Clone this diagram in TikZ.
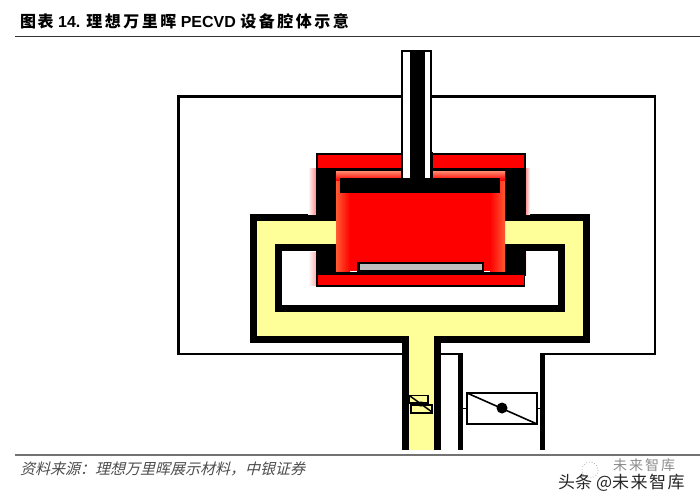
\documentclass[tikz,border=0pt]{standalone}
\usepackage{fontspec}
\usetikzlibrary{calc}
\setmainfont{Liberation Sans}
\newfontfamily\cjk{Noto Sans CJK SC}
\newfontfamily\cjkslant[FakeSlant=0.25]{Noto Sans CJK SC}
\definecolor{lid}{RGB}{255, 0, 0}
\definecolor{glow}{RGB}{255, 90, 50}
\definecolor{tube}{RGB}{255, 255, 153}
\definecolor{wafer}{RGB}{190, 190, 190}
\tikzset{
  shell/.style={draw=black, line width=2.4pt, miter limit=10},
  duct/.style={draw=black, line width=5pt},
  label/.style={anchor=west, inner sep=0pt},
}

\begin{document}
\begin{tikzpicture}[x=1pt, y=-1pt]
  \useasboundingbox (0, 0) rectangle (700, 503);

  % Header and footer
  \node[label] (title) at (20, 21) {\bfseries\fontsize{16}{18}\selectfont{\cjk\bfseries 图\hspace{1.5pt}表} 14. {\cjk\bfseries 理\hspace{2.5pt}想\hspace{2.5pt}万\hspace{2.5pt}里\hspace{2.5pt}晖} PECVD {\cjk\bfseries 设\hspace{2.5pt}备\hspace{2.5pt}腔\hspace{2.5pt}体\hspace{2.5pt}示\hspace{2.5pt}意}};
  \draw[line width=1pt, black!80] (15, 36.5) -- (700, 36.5);
  \draw[line width=2pt, black!55] (15, 455) -- (700, 455);
  \node[label, text=black!70] (source) at (20, 469) {\fontsize{15}{17}\selectfont\cjkslant 资料来源：理想万里晖展示材料，中银证券};

  % Outer chamber
  \draw[shell] (404, 354) -- (178.5, 354) -- (178.5, 96.5) -- (655, 96.5) -- (655, 354) -- (542, 354);
  \draw[shell] (441, 354) -- (460.5, 354);
  \draw[duct] (460.5, 353) -- (460.5, 450);
  \draw[duct] (542, 353) -- (542, 450);

  % Gas channel
  \fill[tube] (253, 217) rectangle (587, 339);
  \fill[tube] (409, 335) rectangle (434, 450);
  \fill[white] (278, 247) rectangle (562, 309);
  \draw[black, line width=7pt, miter limit=10] (336, 217.5) -- (253.5, 217.5) -- (253.5, 339) -- (405.5, 339) -- (405.5, 450);
  \draw[black, line width=7pt, miter limit=10] (505, 217.5) -- (586.5, 217.5) -- (586.5, 339) -- (437, 339) -- (437, 450);
  \draw[black, line width=7.5pt, miter limit=10] (336, 247.5) -- (278.5, 247.5) -- (278.5, 308.7) -- (561.5, 308.7) -- (561.5, 247.5) -- (505, 247.5);

  % Glow beside the lid
  \shade[left color=white, right color=lid!45] (308, 168) rectangle (316, 214);
  \shade[left color=white, right color=lid!30] (308, 252) rectangle (316, 285);
  \shade[left color=lid!45, right color=white] (525.5, 168) rectangle (530, 214);
  \shade[left color=lid!20, right color=white] (524, 252) rectangle (527, 275);

  % Lid and side blocks
  \fill[black] (316, 153) rectangle (526, 178);
  \fill[black] (316, 153) rectangle (336, 215);
  \fill[black] (505, 153) rectangle (526, 215);
  \fill[black] (316, 244) rectangle (336, 287);
  \fill[black] (505, 244) rectangle (526, 276);
  \fill[black] (316, 272) rectangle (525, 287);
  \fill[lid] (318, 155) rectangle (524, 168);
  \fill[lid] (318, 275) rectangle (523.5, 285);

  % Plasma space
  \fill[lid] (336, 171) rectangle (505, 271);
  \shade[left color=glow, right color=lid] (336, 171) rectangle (350, 271);
  \shade[left color=lid, right color=glow] (490, 171) rectangle (505, 271);
  \shade[top color=glow!70!white, bottom color=lid] (336, 171) rectangle (505, 180);
  \fill[black] (340, 177.5) rectangle (499.5, 192.5);

  % Wafer
  \fill[black] (357, 262) rectangle (484, 275);
  \fill[wafer] (359.5, 264) rectangle (481.5, 270);

  % Rod
  \fill[black] (400.5, 152) rectangle (433, 178);
  \fill[white] (401, 51) rectangle (432, 177.5);
  \fill[black] (409.5, 51) rectangle (425, 180);
  \draw[black, line width=1.6pt] (402, 177.5) -- (402, 51) -- (431, 51) -- (431, 177.5);

  % Gate in the channel
  \draw[black, line width=1.1pt, fill=tube] (409, 395.5) rectangle (428, 403);
  \draw[black, line width=1.1pt, fill=tube] (411, 405) rectangle (432, 413);
  \draw[black, line width=1.5pt] (410, 396) -- (432, 412);
  \fill[black] (421, 404) ellipse (4.5pt and 2.5pt);

  % Butterfly valve
  \draw[black, line width=1.6pt] (467, 393) rectangle (537, 424);
  \draw[black, line width=1.6pt] (467, 393) -- (537, 424);
  \fill[black] (502, 408) circle (5.5pt);
  \draw[black, line width=1pt] (461, 408) -- (467, 408);
  \draw[black, line width=1pt] (537, 408) -- (542, 408);

  % Watermark
  \draw[black!30, dotted, line width=0.8pt] (590, 470) circle (8);
  \node[label, text=black!45] (markb) at (613, 465) {\fontsize{14}{15}\selectfont\cjk 未\hspace{2pt}来\hspace{2pt}智\hspace{2pt}库};
  \node[label, text=black!85] (marka) at (558, 483) {\fontsize{17}{18}\selectfont\cjk 头条 @未\hspace{1.5pt}来\hspace{1.5pt}智\hspace{1.5pt}库};
\end{tikzpicture}
\end{document}
